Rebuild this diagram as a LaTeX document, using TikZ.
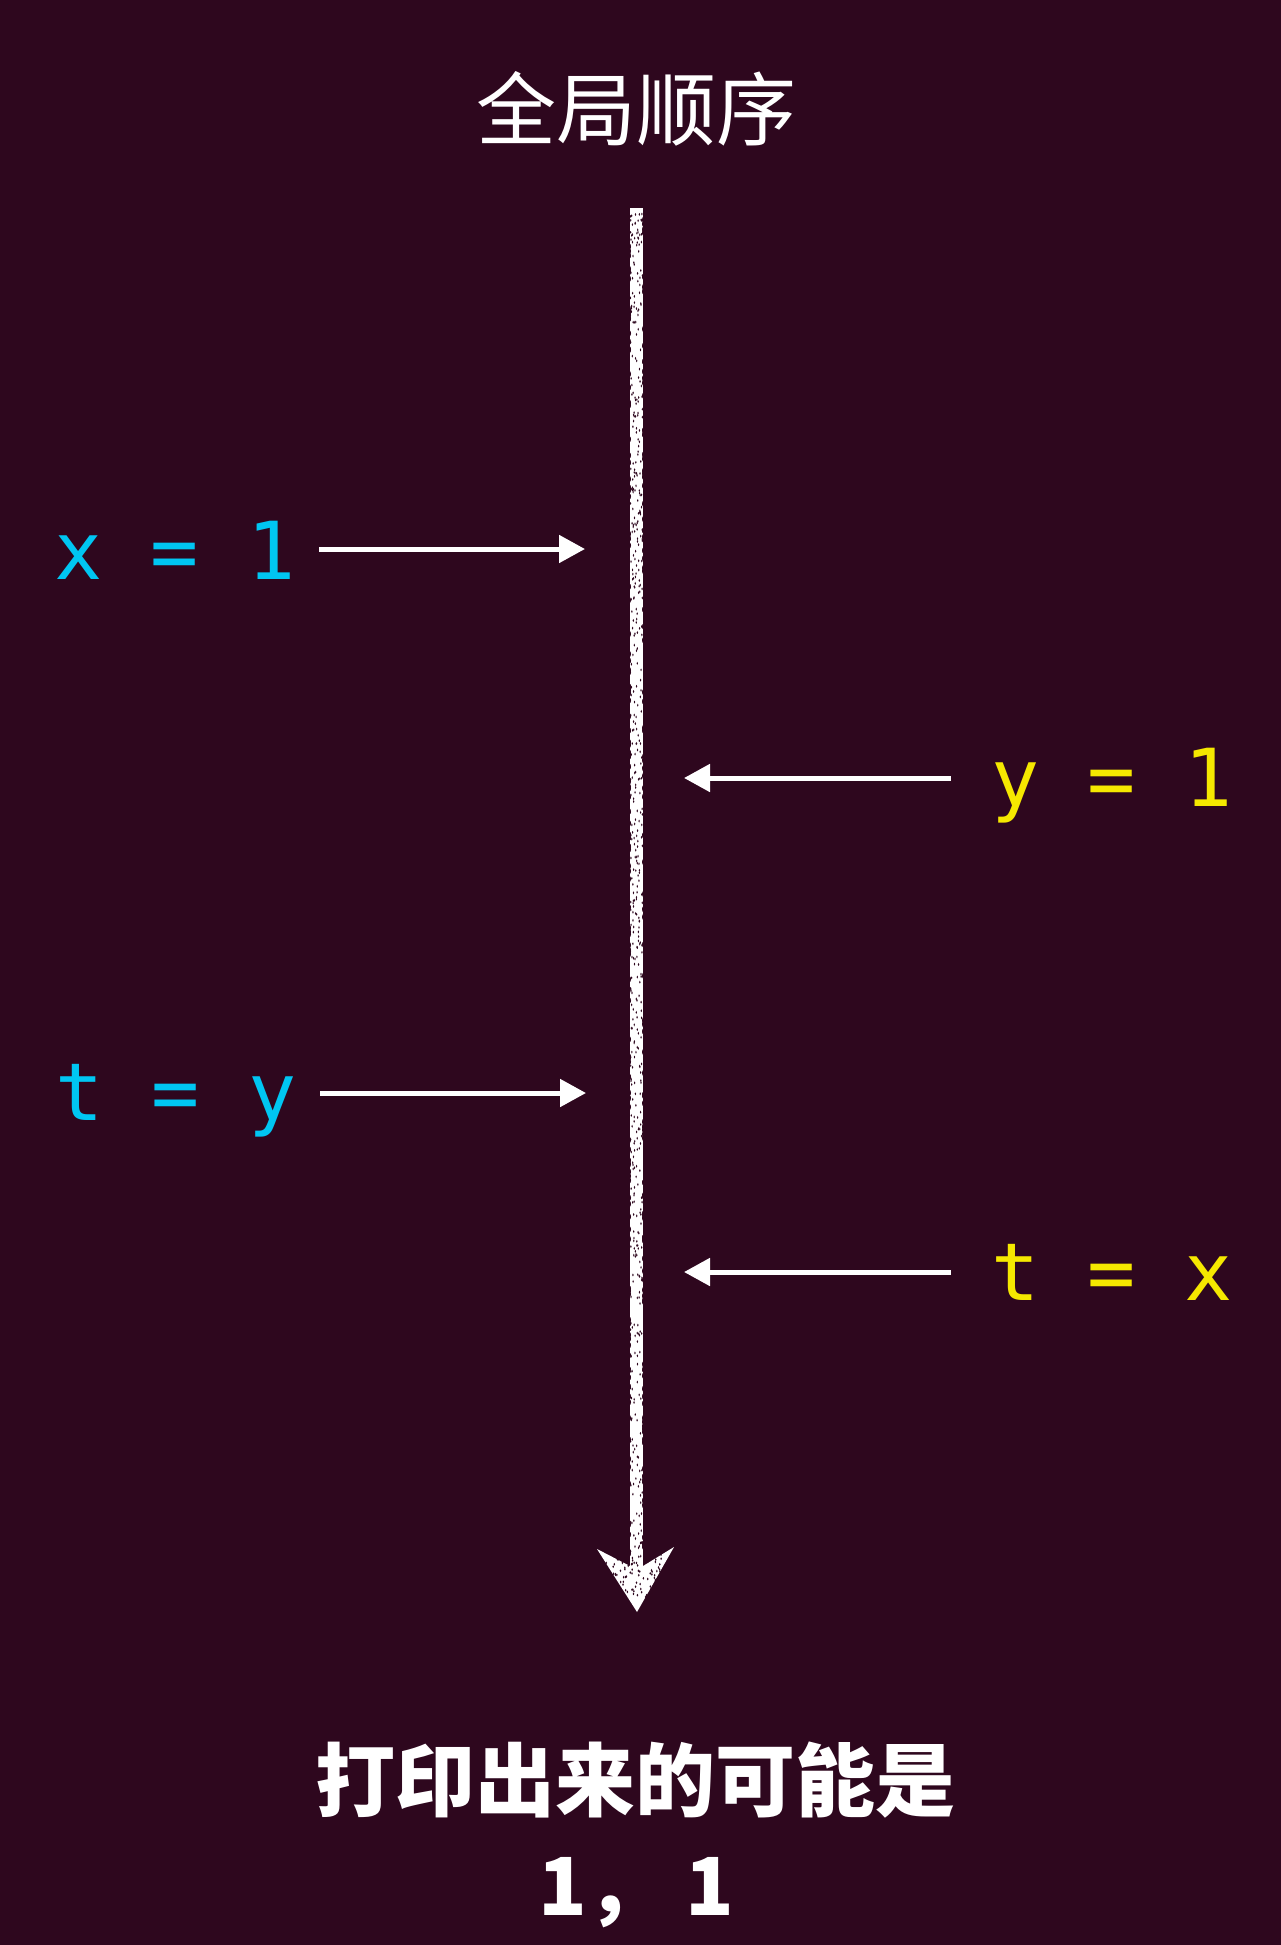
\documentclass[tikz,border=0pt]{standalone}
\usepackage{fontspec}
\setmainfont{DejaVu Sans}
\newfontfamily\cjk{Noto Sans CJK SC}
\newfontfamily\codefont{DejaVu Sans Mono}
\usetikzlibrary{arrows.meta}
\definecolor{bg}{RGB}{46,7,30}
\definecolor{codecyan}{RGB}{0,198,242}
\definecolor{codeyellow}{RGB}{245,232,0}
\begin{document}
\begin{tikzpicture}[x=1pt,y=-1pt,
  code/.style={font=\codefont\fontsize{80}{96}\selectfont, inner sep=0pt, anchor=base},
  heading/.style={font=\cjk\fontsize{80}{96}\selectfont, text=white, inner sep=0pt},
  verdict/.style={font=\cjk\bfseries\fontsize{80}{96}\selectfont, text=white, inner sep=0pt},
  event/.style={draw=white, line width=5pt, -{Triangle[length=26pt,width=27pt]}},
  chalk/.style={draw=white, line width=13pt}
]
% canvas
\fill[bg] (0,0) rectangle (1281,1945);
\useasboundingbox (0,0) rectangle (1281,1945);

% title
\node[heading] (title) at (636,109) {全局顺序};

% global order axis (chalk stroke)
\coordinate (axtop) at (636.5,208);
\coordinate (axend) at (636.5,1585);
\coordinate (axtip) at (637,1612);
\draw[chalk] (axtop) -- (axend);
\fill[white] (597,1549) -- (630,1566) -- (643,1566) -- (674,1547) -- (axtip) -- cycle;
% chalk grain
\pgfmathsetseed{11}
\foreach \i in {1,...,520}{
  \pgfmathsetmacro\px{630.5+12*rnd}
  \pgfmathsetmacro\py{212+1345*rnd}
  \fill[bg] (\px,\py) ellipse (0.7 and 1.5);
}
\foreach \i in {1,...,220}{
  \pgfmathsetmacro\py{212+1345*rnd}
  \pgfmathsetmacro\side{rnd}
  \pgfmathsetmacro\px{\side<0.5 ? 629.5 : 643.5}
  \fill[bg] (\px,\py) ellipse (1.5 and 3);
}
\foreach \i in {1,...,90}{
  \pgfmathsetmacro\px{605+60*rnd}
  \pgfmathsetmacro\py{1553+45*rnd}
  \fill[bg] (\px,\py) ellipse (0.8 and 1.4);
}

% thread A (cyan)
\node[code, text=codecyan] (xa) at (175,579) {x = 1};
\coordinate (xa-s) at (319,549);
\coordinate (xa-e) at (585,549);
\draw[event] (xa-s) -- (xa-e);

\node[code, text=codecyan] (ty) at (176,1120) {t = y};
\coordinate (ty-s) at (320,1093);
\coordinate (ty-e) at (586,1093);
\draw[event] (ty-s) -- (ty-e);

% thread B (yellow)
\node[code, text=codeyellow] (yb) at (1112,806) {y = 1};
\coordinate (yb-s) at (951,778);
\coordinate (yb-e) at (684,778);
\draw[event] (yb-s) -- (yb-e);

\node[code, text=codeyellow] (tx) at (1112,1300) {t = x};
\coordinate (tx-s) at (951,1272);
\coordinate (tx-e) at (684,1272);
\draw[event] (tx-s) -- (tx-e);

% outcome
\node[verdict] (outcome) at (635,1780) {打印出来的可能是};
\node[verdict] (values) at (636,1893) {1， 1};
\end{tikzpicture}
\end{document}
